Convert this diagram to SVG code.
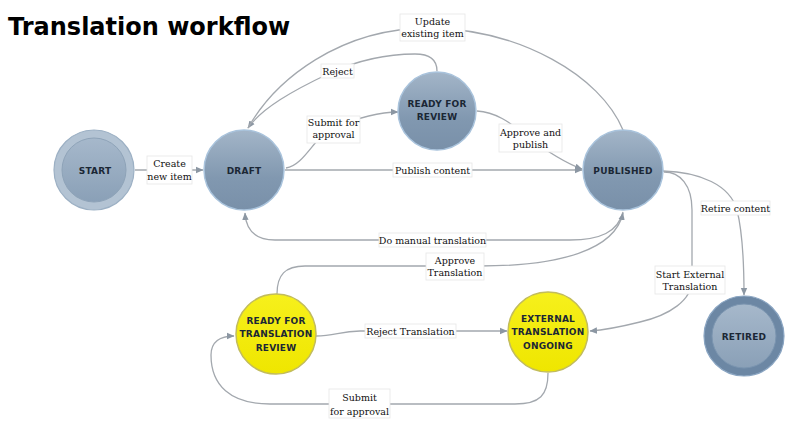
<svg xmlns="http://www.w3.org/2000/svg" width="801" height="429" viewBox="0 0 801 429">
<defs>
<linearGradient id="gBlue" x1="0" y1="0" x2="0" y2="1">
<stop offset="0" stop-color="#a3b5c8"/>
<stop offset="0.6" stop-color="#8198b0"/>
<stop offset="1" stop-color="#7990a9"/>
</linearGradient>
<linearGradient id="gInner" x1="0" y1="0" x2="0" y2="1">
<stop offset="0" stop-color="#a6b8cb"/>
<stop offset="1" stop-color="#8aa0b7"/>
</linearGradient>
<linearGradient id="gYel" x1="0" y1="0" x2="0" y2="1">
<stop offset="0" stop-color="#f6f01c"/>
<stop offset="1" stop-color="#efe600"/>
</linearGradient>
<marker id="arr" markerUnits="userSpaceOnUse" markerWidth="8" markerHeight="8" viewBox="0 0 8 8" refX="7" refY="4" orient="auto">
<path d="M0,0.8 L7.5,4 L0,7.2 Z" fill="#8c97a3"/>
</marker>
<style>
.title{font-family:"DejaVu Sans",Verdana,sans-serif;font-weight:bold;font-size:24px;fill:#000}
.edge{fill:none;stroke:#a3a8ae;stroke-width:1.3}
.ea{marker-end:url(#arr)}
.lbox{fill:#fff;stroke:#e6e6e6;stroke-width:0.8}
.lbl{font-family:"DejaVu Serif","Liberation Serif",serif;font-size:9.5px;fill:#111;text-anchor:middle}
.nt{font-family:"DejaVu Sans",Verdana,sans-serif;font-weight:bold;font-size:9px;fill:#1b2735;text-anchor:middle;letter-spacing:0.2px}
.blue{fill:url(#gBlue);stroke:#a9c3dc;stroke-width:1.5}
.yel{fill:url(#gYel);stroke:#c2bc5c;stroke-width:1.5}
</style>
</defs>
<rect width="801" height="429" fill="#fff"/>
<text class="title" x="8" y="35">Translation workflow</text>

<g id="connectors">
<path id="e-start-draft" class="edge ea" d="M135,170 L203,170"/>
<path id="e-draft-rfr" class="edge ea" d="M286,168 C305,165 315,135 333,128 C350,121 375,112 398,112"/>
<path id="e-rfr-draft" class="edge ea" d="M437,71 C437,60 430,54 415,54 C380,54 352,63 330,73 C292,91 262,108 248,128"/>
<path id="e-pub-draft-update" class="edge" d="M623,130 C600,75 520,30 432,28 C340,27 275,80 248,128"/>
<path id="e-rfr-pub" class="edge ea" d="M477,111 C495,112 510,122 525,135 C545,150 565,163 582,169"/>
<path id="e-draft-pub" class="edge ea" d="M285,170 L582,170"/>
<path id="e-pub-draft-manual" class="edge ea" d="M623,212 C618,232 600,240 570,240 L275,240 C255,240 246,230 245,213"/>
<path id="e-rftr-pub" class="edge ea" d="M277,294 C277,275 285,266 305,266 L480,266 C560,266 615,250 623,213"/>
<path id="e-pub-retired" class="edge ea" d="M663,171 C700,172 730,185 737,210 C742,230 744,260 744,295"/>
<path id="e-pub-ext" class="edge ea" d="M664,172 C680,172 692,185 692,210 L692,280 C692,300 670,315 640,322 C620,327 605,330 590,331"/>
<path id="e-rftr-ext" class="edge ea" d="M316,336 C335,336 340,331 360,331 L507,331"/>
<path id="e-ext-rftr" class="edge ea" d="M548,373 C548,395 540,404 515,404 L270,404 C230,404 211,385 211,355 C211,342 220,336 234,336"/>
</g>

<g id="edge-labels">
<rect class="lbox" x="147" y="156" width="45" height="28"/>
<text class="lbl" x="169.5" y="167">Create</text>
<text class="lbl" x="169.5" y="180">new item</text>

<rect class="lbox" x="307" y="116" width="53" height="27"/>
<text class="lbl" x="333.5" y="125.5">Submit for</text>
<text class="lbl" x="333.5" y="138">approval</text>

<rect class="lbox" x="321" y="64" width="33" height="14"/>
<text class="lbl" x="337.5" y="74.5">Reject</text>

<rect class="lbox" x="400" y="14" width="65" height="27"/>
<text class="lbl" x="432.5" y="24.5">Update</text>
<text class="lbl" x="432.5" y="37">existing item</text>

<rect class="lbox" x="499" y="124" width="63" height="28"/>
<text class="lbl" x="530.5" y="135.5">Approve and</text>
<text class="lbl" x="530.5" y="148">publish</text>

<rect class="lbox" x="393" y="163" width="79" height="14"/>
<text class="lbl" x="432.5" y="173.5">Publish content</text>

<rect class="lbox" x="379" y="233" width="107" height="14"/>
<text class="lbl" x="432.5" y="243.5">Do manual translation</text>

<rect class="lbox" x="426" y="253" width="58" height="27"/>
<text class="lbl" x="455" y="263.5">Approve</text>
<text class="lbl" x="455" y="276">Translation</text>

<rect class="lbox" x="701" y="201" width="69" height="14"/>
<text class="lbl" x="735.5" y="211.5">Retire content</text>

<rect class="lbox" x="655" y="266" width="70" height="28"/>
<text class="lbl" x="690" y="277.5">Start External</text>
<text class="lbl" x="690" y="290">Translation</text>

<rect class="lbox" x="365" y="324" width="91" height="14"/>
<text class="lbl" x="410.5" y="334.5">Reject Translation</text>

<rect class="lbox" x="329" y="389" width="61" height="29"/>
<text class="lbl" x="359.5" y="400.5">Submit</text>
<text class="lbl" x="359.5" y="414.5">for approval</text>
</g>

<g id="node-start">
<circle cx="94" cy="170" r="40" fill="#b3c3d3" stroke="#9cb0c4" stroke-width="1.2"/>
<circle cx="94" cy="170" r="32" fill="url(#gInner)" stroke="#8ea3b8" stroke-width="1"/>
<text class="nt" x="95" y="173.5">START</text>
</g>

<g id="node-draft">
<circle class="blue" cx="244" cy="170" r="40"/>
<text class="nt" x="244" y="173.5">DRAFT</text>
</g>

<g id="node-ready-for-review">
<circle class="blue" cx="437" cy="111" r="39"/>
<text class="nt" x="437" y="106.5">READY FOR</text>
<text class="nt" x="437" y="119.5">REVIEW</text>
</g>

<g id="node-published">
<circle class="blue" cx="623" cy="170" r="40"/>
<text class="nt" x="623" y="173.5">PUBLISHED</text>
</g>

<g id="node-retired">
<circle cx="744" cy="336" r="40" fill="#6c87a4" stroke="#8aa5c2" stroke-width="1.2"/>
<circle cx="744" cy="336" r="32" fill="url(#gInner)" stroke="#7b95b0" stroke-width="1"/>
<text class="nt" x="744" y="339.5">RETIRED</text>
</g>

<g id="node-ready-for-translation-review">
<circle class="yel" cx="276" cy="334" r="40"/>
<text class="nt" x="276" y="323.5">READY FOR</text>
<text class="nt" x="276" y="337">TRANSLATION</text>
<text class="nt" x="276" y="350.5">REVIEW</text>
</g>

<g id="node-external-translation-ongoing">
<circle class="yel" cx="548" cy="332" r="40"/>
<text class="nt" x="548" y="321.5">EXTERNAL</text>
<text class="nt" x="548" y="335">TRANSLATION</text>
<text class="nt" x="548" y="348.5">ONGOING</text>
</g>
</svg>
